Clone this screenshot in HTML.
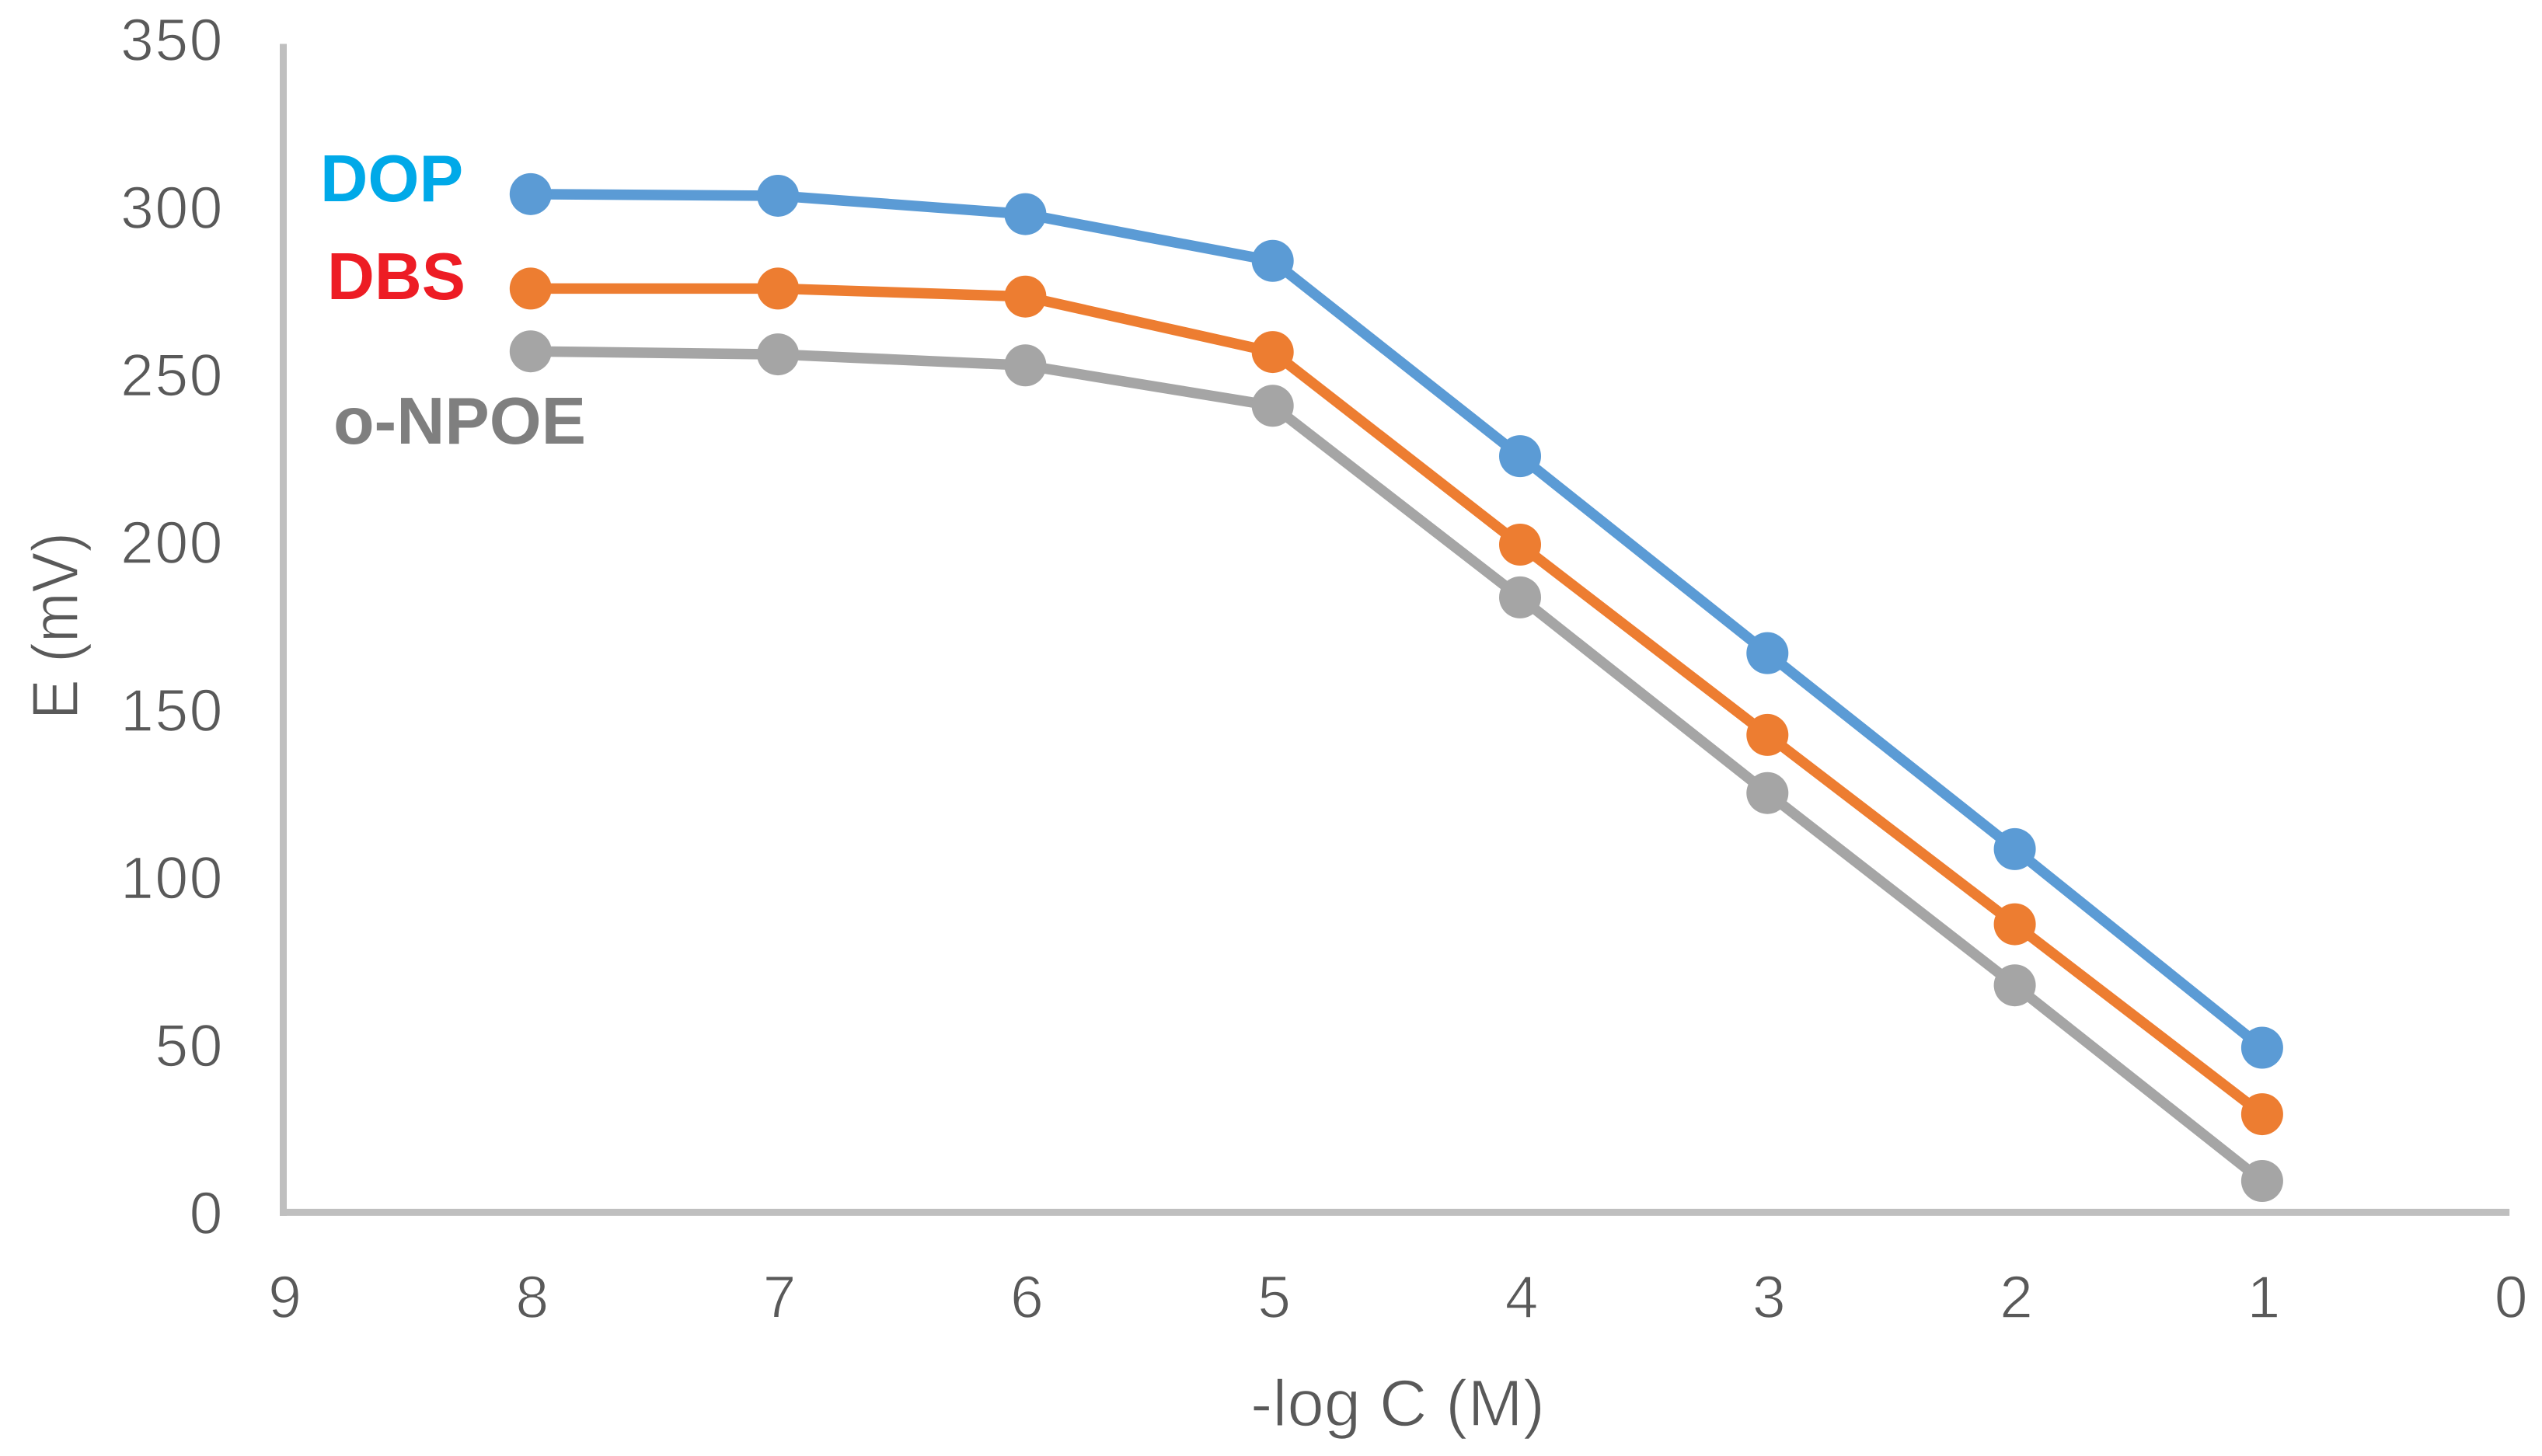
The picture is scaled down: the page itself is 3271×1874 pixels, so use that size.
<!DOCTYPE html>
<html lang="en">
<head>
<meta charset="utf-8">
<title>E vs -log C chart</title>
<style>
html,body{margin:0;padding:0;background:#fff;}
svg{display:block;}
.tick{font-family:"Liberation Sans",sans-serif;font-size:77px;fill:#595959;stroke:#fff;stroke-width:1.5px;}
.title{font-family:"Liberation Sans",sans-serif;font-size:84px;fill:#595959;stroke:#fff;stroke-width:1.5px;}
.lab{font-family:"Liberation Sans",sans-serif;font-size:85px;font-weight:bold;}
</style>
</head>
<body>
<svg id="chart" xmlns="http://www.w3.org/2000/svg" width="3271" height="1874" viewBox="0 0 3271 1874">
  <rect x="0" y="0" width="3271" height="1874" fill="#ffffff"/>
  <g id="axes"></g>
  <g id="series"></g>
  <text class="lab" x="412" y="259" fill="#00a9e8">DOP</text>
  <text class="lab" x="421" y="385" fill="#ed1c24" textLength="178" lengthAdjust="spacingAndGlyphs">DBS</text>
  <text class="lab" x="429" y="571" fill="#7f7f7f" textLength="325" lengthAdjust="spacingAndGlyphs">o-NPOE</text>
  <text class="title" x="1609" y="1835" textLength="379" lengthAdjust="spacingAndGlyphs">-log C (M)</text>
  <text class="title" transform="translate(100,926) rotate(-90)" x="0" y="0" textLength="241" lengthAdjust="spacingAndGlyphs">E (mV)</text>
</svg>
<script>
const categories = [8, 7, 6, 5, 4, 3, 2, 1];
const dopValues = [305, 304.5, 299, 285, 226.5, 167.5, 108.8, 49.3];
const dbsValues = [276.7, 276.7, 274.3, 257.7, 200, 143, 86.3, 29.4];
const npoeValues = [257.9, 257, 253.7, 241.6, 184.2, 125.6, 68, 9.4];
const xTickLabels = [9, 8, 7, 6, 5, 4, 3, 2, 1, 0];
const yTickLabels = [0, 50, 100, 150, 200, 250, 300, 350];

const NS = 'http://www.w3.org/2000/svg';
function xPos(v) { return 364.5 + (9 - v) * 318.3; }
function yPos(v) { return 1560.4 - v * 4.297; }
function yLabelPos(v) { return 1561 - v * 4.314; }

function make(tag, parent) {
  const el = document.createElementNS(NS, tag);
  parent.appendChild(el);
  return el;
}

const axes = document.getElementById('axes');
const yAxis = make('line', axes);


yAxis.setAttribute('x1', xPos(9));
yAxis.setAttribute('x2', xPos(9));
yAxis.setAttribute('y1', yPos(350));
yAxis.setAttribute('y2', yPos(0) + 4.5);
yAxis.setAttribute('stroke', '#bfbfbf');
yAxis.setAttribute('stroke-width', 9);

const xAxis = make('line', axes);


xAxis.setAttribute('x1', xPos(9) - 4.5);
xAxis.setAttribute('x2', xPos(0));
xAxis.setAttribute('y1', yPos(0));
xAxis.setAttribute('y2', yPos(0));
xAxis.setAttribute('stroke', '#bfbfbf');
xAxis.setAttribute('stroke-width', 9);

yTickLabels.forEach(function (v) {
  const t = make('text', axes);
  
  
  t.setAttribute('class', 'tick');
  t.setAttribute('x', 288);
  t.setAttribute('y', yLabelPos(v) + 27);
  t.setAttribute('text-anchor', 'end');
  t.setAttribute('letter-spacing', '1.5');
  t.textContent = v;
});

xTickLabels.forEach(function (v) {
  const t = make('text', axes);
  
  
  t.setAttribute('class', 'tick');
  t.setAttribute('x', xPos(v) + 2);
  t.setAttribute('y', 1696);
  t.setAttribute('text-anchor', 'middle');
  t.textContent = v;
});

const seriesGroup = document.getElementById('series');

function drawSeries(values, color, name) {
  const g = make('g', seriesGroup);
  
  
  const line = make('polyline', g);
  
  
  line.setAttribute('points', values.map(function (v, i) {
    return xPos(categories[i]) + ',' + yPos(v);
  }).join(' '));
  line.setAttribute('fill', 'none');
  line.setAttribute('stroke', color);
  line.setAttribute('stroke-width', 13.5);
  values.forEach(function (v, i) {
    const c = make('circle', g);
    
    
    c.setAttribute('cx', xPos(categories[i]));
    c.setAttribute('cy', yPos(v));
    c.setAttribute('r', 27);
    c.setAttribute('fill', color);
  });
}

drawSeries(dopValues, '#5b9bd5', 'dop-series');
drawSeries(dbsValues, '#ed7d31', 'dbs-series');
drawSeries(npoeValues, '#a5a5a5', 'o-npoe-series');
</script>
</body>
</html>
